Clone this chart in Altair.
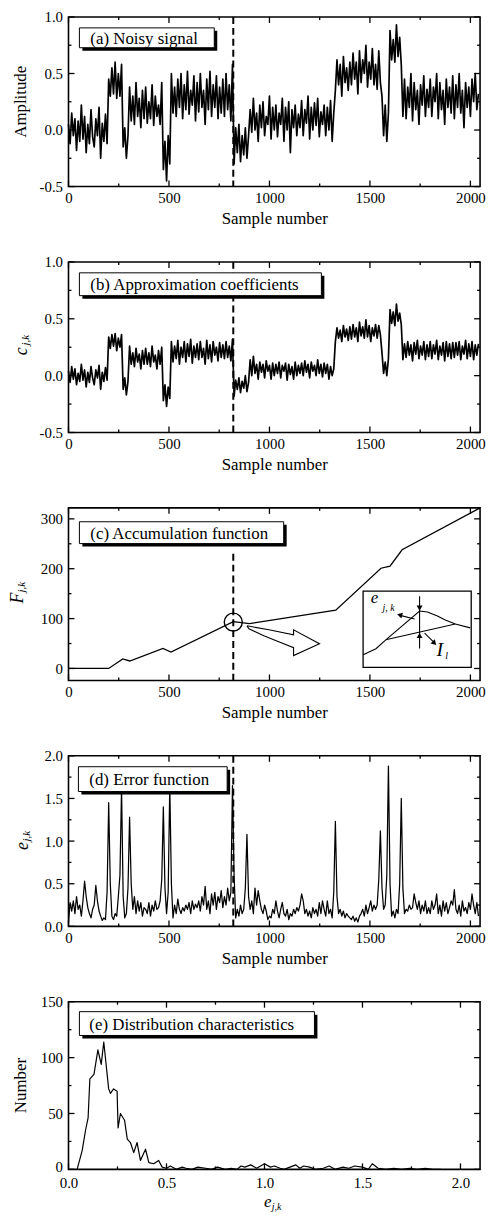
import altair as alt
import pandas as pd

FONT = "Liberation Serif"
W = 415

# ---------------- data ----------------
sample_step = 8
sample_count = 256

noisy_signal = [
    0.05, -0.12, 0.15, -0.05, 0.10, -0.18, 0.08, -0.10, 0.22, -0.08, 0.12, -0.20, 0.05, -0.12, 0.18, -0.06,
    -0.15, 0.10, -0.05, 0.20, -0.25, 0.06, -0.10, 0.14, -0.12, 0.45, 0.30, 0.55, 0.32, 0.60, 0.28, 0.50,
    0.30, 0.58, -0.15, 0.02, -0.25, -0.05, 0.38, 0.08, 0.30, 0.05, 0.42, 0.12, 0.28, 0.02, 0.35, 0.10,
    0.38, 0.06, 0.25, 0.10, 0.40, 0.04, 0.30, 0.12, 0.22, 0.05, 0.42, -0.35, -0.10, -0.45, -0.05, -0.30,
    0.50, 0.15, 0.38, 0.12, 0.45, 0.20, 0.50, 0.10, 0.40, 0.18, 0.52, 0.14, 0.35, 0.22, 0.48, 0.08,
    0.42, 0.16, 0.50, 0.20, 0.35, 0.05, 0.45, 0.18, 0.52, 0.12, 0.40, 0.20, 0.48, 0.10, 0.38, 0.15,
    0.45, 0.12, 0.50, 0.18, 0.40, 0.08, 0.58, -0.30, 0.02, -0.20, 0.05, -0.28, -0.05, -0.22, 0.02, -0.25,
    -0.05, 0.18, -0.02, 0.28, 0.00, 0.15, -0.10, 0.22, 0.02, 0.25, -0.05, 0.12, 0.05, 0.30, -0.08, 0.20,
    0.00, 0.22, -0.06, 0.15, 0.05, 0.28, -0.10, 0.20, 0.00, 0.25, -0.20, 0.18, 0.02, 0.22, -0.05, 0.14,
    0.02, 0.26, -0.05, 0.18, 0.06, 0.30, -0.08, 0.20, 0.00, 0.24, 0.04, 0.28, -0.06, 0.16, 0.05, 0.22,
    -0.05, 0.20, 0.00, 0.26, -0.10, 0.15, 0.35, 0.62, 0.40, 0.58, 0.30, 0.65, 0.42, 0.55, 0.35, 0.60,
    0.40, 0.68, 0.45, 0.60, 0.32, 0.70, 0.42, 0.62, 0.50, 0.75, 0.38, 0.60, 0.45, 0.72, 0.40, 0.58,
    0.36, 0.70, 0.42, 0.30, -0.05, 0.22, -0.10, 0.15, 0.88, 0.62, 0.80, 0.60, 0.93, 0.65, 0.82, 0.58,
    0.12, 0.45, 0.10, 0.38, 0.20, 0.50, 0.08, 0.42, 0.18, 0.35, 0.05, 0.40, 0.22, 0.48, 0.12, 0.36,
    0.20, 0.45, 0.12, 0.38, 0.25, 0.50, 0.10, 0.42, 0.18, 0.35, 0.05, 0.45, 0.20, 0.38, 0.15, 0.48,
    0.10, 0.40, 0.20, 0.50, 0.15, 0.35, 0.02, 0.42, 0.20, 0.38, 0.12, 0.45, 0.25, 0.50, 0.18, 0.32,
]

approx_coeff = [
    0.04, -0.06, 0.08, -0.03, 0.06, -0.08, 0.02, -0.05, 0.10, -0.04, 0.05, -0.10, 0.03, -0.06, 0.08, -0.02,
    -0.08, 0.05, -0.02, 0.09, -0.12, 0.03, -0.05, 0.07, -0.04, 0.34, 0.24, 0.36, 0.26, 0.37, 0.22, 0.33,
    0.25, 0.36, -0.12, -0.02, -0.17, -0.05, 0.26, 0.10, 0.20, 0.08, 0.24, 0.12, 0.19, 0.06, 0.22, 0.10,
    0.24, 0.10, 0.20, 0.08, 0.26, 0.12, 0.18, 0.06, 0.22, 0.10, 0.25, -0.22, -0.08, -0.27, -0.10, -0.20,
    0.30, 0.12, 0.26, 0.15, 0.31, 0.10, 0.25, 0.16, 0.30, 0.12, 0.28, 0.17, 0.32, 0.11, 0.26, 0.16,
    0.28, 0.14, 0.30, 0.16, 0.24, 0.10, 0.31, 0.15, 0.27, 0.12, 0.30, 0.18, 0.25, 0.13, 0.29, 0.16,
    0.27, 0.15, 0.30, 0.16, 0.26, 0.13, 0.32, -0.18, -0.04, -0.12, -0.02, -0.15, -0.05, -0.11, 0.00, -0.14,
    -0.06, 0.14, 0.00, 0.17, 0.02, 0.10, -0.03, 0.12, 0.03, 0.10, -0.02, 0.13, 0.04, 0.09, -0.03, 0.11,
    0.00, 0.10, 0.02, 0.12, -0.02, 0.09, 0.04, 0.11, -0.04, 0.10, 0.01, 0.08, -0.03, 0.12, 0.00, 0.09,
    0.02, 0.11, 0.00, 0.13, 0.03, 0.10, -0.02, 0.12, 0.04, 0.09, 0.00, 0.14, 0.02, 0.10, -0.01, 0.11,
    0.02, 0.10, -0.03, 0.08, 0.00, 0.06, 0.30, 0.42, 0.33, 0.40, 0.30, 0.44, 0.34, 0.41, 0.31, 0.43,
    0.32, 0.45, 0.34, 0.42, 0.30, 0.47, 0.35, 0.43, 0.33, 0.49, 0.34, 0.44, 0.30, 0.42, 0.35, 0.45,
    0.33, 0.44, 0.36, 0.20, 0.02, 0.12, 0.00, 0.15, 0.58, 0.46, 0.56, 0.44, 0.63, 0.48, 0.55, 0.45,
    0.14, 0.28, 0.16, 0.30, 0.18, 0.27, 0.13, 0.29, 0.19, 0.31, 0.15, 0.26, 0.18, 0.30, 0.14, 0.27,
    0.17, 0.30, 0.15, 0.27, 0.19, 0.31, 0.14, 0.26, 0.18, 0.29, 0.13, 0.30, 0.17, 0.28, 0.15, 0.29,
    0.16, 0.29, 0.18, 0.30, 0.14, 0.26, 0.19, 0.31, 0.15, 0.28, 0.17, 0.30, 0.14, 0.27, 0.18, 0.28,
]

error_func = [
    0.05, 0.28, 0.18, 0.30, 0.15, 0.35, 0.20, 0.25, 0.12, 0.30, 0.53, 0.35, 0.22, 0.15, 0.10, 0.20,
    0.25, 0.48, 0.30, 0.18, 0.12, 0.07, 0.10, 0.08, 0.40, 1.45, 0.50, 0.12, 0.08, 0.15, 0.12, 0.35,
    0.60, 1.62, 0.35, 0.10, 0.15, 0.45, 1.28, 0.50, 0.20, 0.35, 0.15, 0.30, 0.18, 0.28, 0.12, 0.22,
    0.20, 0.15, 0.28, 0.12, 0.25, 0.18, 0.30, 0.20, 0.22, 0.30, 0.55, 1.40, 0.45, 0.15, 0.40, 1.65,
    0.50, 0.10, 0.25, 0.15, 0.32, 0.20, 0.15, 0.22, 0.18, 0.25, 0.20, 0.28, 0.15, 0.30, 0.20, 0.26,
    0.22, 0.30, 0.18, 0.35, 0.25, 0.47, 0.20, 0.30, 0.15, 0.38, 0.25, 0.40, 0.20, 0.35, 0.28, 0.42,
    0.22, 0.35, 0.25, 0.45, 0.30, 0.40, 1.65, 0.60, 0.10, 0.20, 0.12, 0.25, 0.15, 0.20, 0.45, 1.08,
    0.35, 0.20, 0.30, 0.15, 0.45, 0.25, 0.42, 0.30, 0.20, 0.15, 0.25, 0.18, 0.08, 0.12, 0.10, 0.20,
    0.15, 0.30, 0.18, 0.10, 0.20, 0.28, 0.15, 0.12, 0.20, 0.08, 0.15, 0.12, 0.20, 0.15, 0.22, 0.18,
    0.25, 0.38, 0.30, 0.15, 0.20, 0.12, 0.18, 0.10, 0.22, 0.15, 0.20, 0.12, 0.28, 0.15, 0.30, 0.20,
    0.12, 0.30, 0.15, 0.20, 0.10, 0.40, 1.23, 0.35, 0.15, 0.20, 0.12, 0.18, 0.10, 0.15, 0.12, 0.10,
    0.08, 0.12, 0.06, 0.10, 0.05, 0.12, 0.15, 0.20, 0.12, 0.25, 0.15, 0.22, 0.30, 0.18, 0.25, 0.20,
    0.25, 0.55, 1.12, 0.45, 0.20, 0.25, 0.60, 1.88, 0.50, 0.12, 0.18, 0.10, 0.20, 0.15, 0.50, 1.50,
    0.45, 0.15, 0.20, 0.18, 0.25, 0.20, 0.22, 0.38, 0.28, 0.20, 0.30, 0.15, 0.25, 0.18, 0.30, 0.15,
    0.22, 0.15, 0.30, 0.20, 0.25, 0.38, 0.15, 0.25, 0.12, 0.30, 0.18, 0.28, 0.15, 0.22, 0.30, 0.25,
    0.43, 0.20, 0.15, 0.25, 0.12, 0.30, 0.18, 0.22, 0.15, 0.28, 0.20, 0.38, 0.25, 0.15, 0.28, 0.12,
]

accum_sample = [0, 200, 270, 305, 470, 510, 820, 900, 1330, 1555, 1600, 1660, 2048]
accum_value = [0, 0, 19, 15, 40, 33, 94, 90, 117, 201, 205, 238, 322]

dist_e = [0.044, 0.07, 0.087, 0.10, 0.109, 0.13, 0.15, 0.167, 0.18, 0.205, 0.214, 0.23, 0.248,
          0.253, 0.265, 0.286, 0.30, 0.316, 0.333, 0.35, 0.367, 0.393, 0.41, 0.435, 0.46, 0.478,
          0.50, 0.52, 0.55, 0.58, 0.60, 0.63, 0.66, 0.70, 0.73, 0.76, 0.80, 0.83, 0.86, 0.88, 0.90,
          0.93, 0.96, 0.98, 1.00, 1.03, 1.05, 1.08, 1.10, 1.13, 1.16, 1.18, 1.20, 1.23, 1.26, 1.30,
          1.33, 1.36, 1.40, 1.43, 1.46, 1.50, 1.53, 1.55, 1.58, 1.62, 1.66, 1.70, 1.74, 1.78, 1.82,
          1.86, 1.90]
dist_count = [0, 17, 35, 46, 81, 85, 107, 94, 114, 72, 68, 72, 70,
              37, 50, 44, 27, 24, 15, 24, 8, 18, 6, 5, 8, 2,
              1, 3, 0, 2, 1, 0, 2, 1, 0, 2, 0, 1, 0, 3, 2,
              4, 1, 3, 5, 2, 3, 1, 0, 2, 4, 1, 3, 2, 0, 1,
              3, 0, 2, 1, 3, 2, 0, 5, 1, 0, 1, 0, 1, 0, 1,
              0, 0]

change_sample = 820

# annotation geometry for panel (c), in data units (sample, F)
circle_pt = [820, 93]
hollow_arrow_x = [888, 997, 1120, 1120, 1249, 1120, 1120, 1046, 972, 898, 888]
hollow_arrow_y = [85.5, 77.5, 67.6, 77.5, 49.7, 25.8, 41.7, 53.7, 65.6, 79.5, 85.5]
inset_box = [1466, 2004, 2, 155]
inset_curve_x = [1466, 1530, 1579, 1747, 1786, 1836, 1875, 1925, 1999]
inset_curve_y = [27.7, 39.6, 57.5, 115.2, 113.2, 105.3, 97.3, 89.3, 81.4]
inset_chord_x = [1579, 1925]
inset_chord_y = [57.5, 89.3]

# ---------------- helpers ----------------
axis_common = dict(labelFlush=False, labelOverlap=False, grid=False, ticks=False,
                   domain=False, tickSize=0)


def scales(xdom, xvals, xfmt, xtitle, ydom, yvals, yexpr, xpad=4, ylabel_offset=0):
    X = alt.X("x:Q", scale=alt.Scale(domain=xdom, nice=False, zero=False),
              axis=alt.Axis(values=xvals, format=xfmt, title=xtitle, labelPadding=xpad,
                            **axis_common))
    yaxis = dict(values=yvals, labelExpr=yexpr, title=None, **axis_common)
    if ylabel_offset:
        yaxis["labelOffset"] = {"condition": {"test": "datum.value == 0", "value": ylabel_offset},
                                "value": 0}
    Y = alt.Y("y:Q", scale=alt.Scale(domain=ydom, nice=False, zero=False),
              axis=alt.Axis(**yaxis))
    return X, Y


def tick_layers(X, Y, h, xmaj, xmin, ymaj, ymin):
    out = []
    for vals, ln in ((xmaj, 6), (xmin, 3)):
        base = alt.Chart(pd.DataFrame({"x": vals})).mark_rule(color="black", strokeWidth=1.3)
        out.append(base.encode(x=X, y=alt.value(h), y2=alt.value(h - ln)))
        out.append(base.encode(x=X, y=alt.value(0), y2=alt.value(ln)))
    for vals, ln in ((ymaj, 6), (ymin, 3)):
        base = alt.Chart(pd.DataFrame({"y": vals})).mark_rule(color="black", strokeWidth=1.3)
        out.append(base.encode(y=Y, x=alt.value(0), x2=alt.value(ln)))
        out.append(base.encode(y=Y, x=alt.value(W), x2=alt.value(W - ln)))
    return out


def anchors():
    # invisible mark so every panel has the same outer extent on the left and top
    one = pd.DataFrame({"t": ["."]})
    return [alt.Chart(one).mark_text(align="left", baseline="top", fontSize=2, opacity=0).encode(
        x=alt.value(-60), y=alt.value(-8), text="t:N")]


def label_box(text, x0, x1, y0, y1, tx):
    one = pd.DataFrame({"t": [text]})
    shadow = alt.Chart(one).mark_rect(color="black").encode(
        x=alt.value(x0 + 3), x2=alt.value(x1 + 3), y=alt.value(y0 + 3), y2=alt.value(y1 + 3))
    box = alt.Chart(one).mark_rect(fill="white", stroke="black", strokeWidth=1).encode(
        x=alt.value(x0), x2=alt.value(x1), y=alt.value(y0), y2=alt.value(y1))
    txt = alt.Chart(one).mark_text(align="left", baseline="middle", font=FONT, fontSize=17,
                                   color="black").encode(
        x=alt.value(tx), y=alt.value((y0 + y1) / 2 + 1), text="t:N")
    return [shadow, box, txt]


def vtitle(text, x, y, size=17, italic=False):
    one = pd.DataFrame({"t": [text]})
    return alt.Chart(one).mark_text(angle=270, align="center", baseline="middle", font=FONT,
                                    fontSize=size, fontStyle="italic" if italic else "normal",
                                    color="black").encode(
        x=alt.value(x), y=alt.value(y), text="t:N")


def htext(text, x, y, size=17, italic=True, align="center"):
    one = pd.DataFrame({"t": [text]})
    return alt.Chart(one).mark_text(align=align, baseline="middle", font=FONT, fontSize=size,
                                    fontStyle="italic" if italic else "normal",
                                    color="black").encode(
        x=alt.value(x), y=alt.value(y), text="t:N")


samples = [i * sample_step for i in range(sample_count)]
s_major = [0, 500, 1000, 1500, 2000]
s_minor = [250, 750, 1250, 1750]
fmt1 = "datum.value < 0 ? '-' + format(-datum.value, '.1f') : format(datum.value, '.1f')"
fmt0 = "format(datum.value, 'd')"

noise_style = dict(color="black", strokeWidth=1.7, strokeJoin="round")
line_style = dict(color="black", strokeWidth=1.25, strokeJoin="round")
dash_style = dict(color="black", strokeWidth=2, strokeDash=[7, 4])

HA, HB, HC, HD, HE = 171, 172, 174, 172, 169

# ---------------- panel (a) ----------------
Xa, Ya = scales([0, 2048], s_major, "d", "Sample number", [-0.5, 1.0], [-0.5, 0, 0.5, 1.0], fmt1)
pa = alt.layer(
    *anchors(),
    *tick_layers(Xa, Ya, HA, s_major, s_minor, [-0.5, 0, 0.5, 1.0], [-0.25, 0.25, 0.75]),
    alt.Chart(pd.DataFrame({"x": samples, "y": noisy_signal})).mark_line(**noise_style).encode(x=Xa, y=Ya),
    alt.Chart(pd.DataFrame({"x": [change_sample]})).mark_rule(**dash_style).encode(x=Xa),
    *label_box("(a) Noisy signal", 11, 147, 11, 31, 22),
    vtitle("Amplitude", -48, HA / 2),
).properties(width=W, height=HA)

# ---------------- panel (b) ----------------
Xb, Yb = scales([0, 2048], s_major, "d", "Sample number", [-0.5, 1.0], [-0.5, 0, 0.5, 1.0], fmt1)
pb = alt.layer(
    *anchors(),
    *tick_layers(Xb, Yb, HB, s_major, s_minor, [-0.5, 0, 0.5, 1.0], [-0.25, 0.25, 0.75]),
    alt.Chart(pd.DataFrame({"x": samples, "y": approx_coeff})).mark_line(**noise_style).encode(x=Xb, y=Yb),
    alt.Chart(pd.DataFrame({"x": [change_sample]})).mark_rule(**dash_style).encode(x=Xb),
    *label_box("(b) Approximation coefficients", 11, 255, 11, 34, 22),
    vtitle("c", -47, HB / 2 + 4, size=18, italic=True),
    vtitle("j,k", -43, HB / 2 - 7, size=11, italic=True),
).properties(width=W, height=HB)

# ---------------- panel (c) ----------------
Xc, Yc = scales([0, 2048], s_major, "d", "Sample number", [-24, 322], [0, 100, 200, 300], fmt0)
inset_df = pd.DataFrame({"x": [inset_box[0]], "x2": [inset_box[1]], "y": [inset_box[2]], "y2": [inset_box[3]]})
pc = alt.layer(
    *anchors(),
    *tick_layers(Xc, Yc, HC, s_major, s_minor, [0, 100, 200, 300], [50, 150, 250]),
    alt.Chart(pd.DataFrame({"x": accum_sample, "y": accum_value})).mark_line(
        color="black", strokeWidth=1.3).encode(x=Xc, y=Yc),
    alt.Chart(pd.DataFrame({"x": [change_sample], "y": [230]})).mark_rule(**dash_style).encode(
        x=Xc, y=Yc, y2=alt.value(HC)),
    alt.Chart(pd.DataFrame({"x": [circle_pt[0]], "y": [circle_pt[1]]})).mark_point(
        shape="circle", size=330, filled=False, color="black", strokeWidth=1.4, opacity=1).encode(x=Xc, y=Yc),
    alt.Chart(pd.DataFrame({"x": hollow_arrow_x, "y": hollow_arrow_y,
                            "o": list(range(len(hollow_arrow_x)))})).mark_line(
        color="black", strokeWidth=1.1).encode(x=Xc, y=Yc, order="o:Q"),
    alt.Chart(inset_df).mark_rect(fill="white", stroke="black", strokeWidth=1.3).encode(
        x=Xc, x2="x2:Q", y=Yc, y2="y2:Q"),
    alt.Chart(pd.DataFrame({"x": inset_curve_x, "y": inset_curve_y})).mark_line(
        color="black", strokeWidth=1.1).encode(x=Xc, y=Yc),
    alt.Chart(pd.DataFrame({"x": inset_chord_x, "y": inset_chord_y})).mark_line(
        color="black", strokeWidth=1.1).encode(x=Xc, y=Yc),
    alt.Chart(pd.DataFrame({"x": [1747, 1747], "y": [145, 40]})).mark_line(
        color="black", strokeWidth=1.1).encode(x=Xc, y=Yc),
    alt.Chart(pd.DataFrame({"x": [1747], "y": [121]})).mark_point(
        shape="triangle-down", size=35, filled=True, color="black", opacity=1).encode(x=Xc, y=Yc),
    alt.Chart(pd.DataFrame({"x": [1747], "y": [66]})).mark_point(
        shape="triangle-up", size=35, filled=True, color="black", opacity=1).encode(x=Xc, y=Yc),
    alt.Chart(pd.DataFrame({"x": [1722, 1655], "y": [99, 106]})).mark_line(
        color="black", strokeWidth=1.1).encode(x=Xc, y=Yc),
    alt.Chart(pd.DataFrame({"x": [1652], "y": [107]})).mark_point(
        shape="triangle", size=35, filled=True, color="black", opacity=1, angle=285).encode(x=Xc, y=Yc),
    alt.Chart(pd.DataFrame({"x": [1772, 1815], "y": [71, 54]})).mark_line(
        color="black", strokeWidth=1.1).encode(x=Xc, y=Yc),
    alt.Chart(pd.DataFrame({"x": [1818], "y": [52]})).mark_point(
        shape="triangle", size=35, filled=True, color="black", opacity=1, angle=135).encode(x=Xc, y=Yc),
    alt.Chart(pd.DataFrame({"x": [1523], "y": [141], "t": ["e"]})).mark_text(
        font=FONT, fontSize=17, fontStyle="italic", color="black").encode(x=Xc, y=Yc, text="t:N"),
    alt.Chart(pd.DataFrame({"x": [1593], "y": [121], "t": ["j, k"]})).mark_text(
        font=FONT, fontSize=10, fontStyle="italic", color="black").encode(x=Xc, y=Yc, text="t:N"),
    alt.Chart(pd.DataFrame({"x": [1848], "y": [37], "t": ["I"]})).mark_text(
        font=FONT, fontSize=20, fontStyle="italic", color="black").encode(x=Xc, y=Yc, text="t:N"),
    alt.Chart(pd.DataFrame({"x": [1882], "y": [24], "t": ["l"]})).mark_text(
        font=FONT, fontSize=10, fontStyle="italic", color="black").encode(x=Xc, y=Yc, text="t:N"),
    *label_box("(c) Accumulation function", 11, 217, 14, 36, 22),
    vtitle("F", -51, HC / 2 + 4, size=18, italic=True),
    vtitle("j,k", -47, HC / 2 - 7, size=11, italic=True),
).properties(width=W, height=HC)

# ---------------- panel (d) ----------------
Xd, Yd = scales([0, 2048], s_major, "d", "Sample number", [0, 2.0], [0, 0.5, 1.0, 1.5, 2.0], fmt1)
pd_ = alt.layer(
    *anchors(),
    *tick_layers(Xd, Yd, HD, s_major, s_minor, [0, 0.5, 1.0, 1.5, 2.0], [0.25, 0.75, 1.25, 1.75]),
    alt.Chart(pd.DataFrame({"x": samples, "y": error_func})).mark_line(**line_style).encode(x=Xd, y=Yd),
    alt.Chart(pd.DataFrame({"x": [change_sample]})).mark_rule(**dash_style).encode(x=Xd),
    *label_box("(d) Error function", 10, 160, 11, 36, 21),
    vtitle("e", -46, HD / 2 + 5, size=18, italic=True),
    vtitle("j,k", -42, HD / 2 - 5, size=11, italic=True),
).properties(width=W, height=HD)

# ---------------- panel (e) ----------------
e_major = [0.0, 0.5, 1.0, 1.5, 2.0]
e_minor = [0.25, 0.75, 1.25, 1.75]
Xe, Ye = scales([0, 2.1], e_major, ".1f", None, [0, 150], [0, 50, 100, 150], fmt0, xpad=6,
                ylabel_offset=-3)
pe = alt.layer(
    *anchors(),
    *tick_layers(Xe, Ye, HE, e_major, e_minor, [0, 50, 100, 150], [25, 75, 125]),
    alt.Chart(pd.DataFrame({"x": dist_e, "y": dist_count})).mark_line(
        color="black", strokeWidth=1.2, strokeJoin="round").encode(x=Xe, y=Ye),
    *label_box("(e) Distribution characteristics", 11, 248, 10, 34, 21),
    vtitle("Number", -48, HE / 2),
    htext("e", 201, HE + 33, size=17),
    htext("j,k", 205, HE + 38, size=10, align="left"),
).properties(width=W, height=HE)

chart = alt.vconcat(pa, pb, pc, pd_, pe, spacing=26).properties(
    padding={"left": 0, "top": -5, "right": 0, "bottom": 0}
).configure_view(
    stroke="black", strokeWidth=1.6
).configure_axis(
    labelFont=FONT, labelFontSize=15, labelColor="black",
    titleFont=FONT, titleFontSize=17, titleFontWeight="normal", titleColor="black",
).configure_axisX(titlePadding=5).configure_axisY(labelPadding=6)

chart.save("out.html", embed_options={"renderer": "svg", "actions": False})
